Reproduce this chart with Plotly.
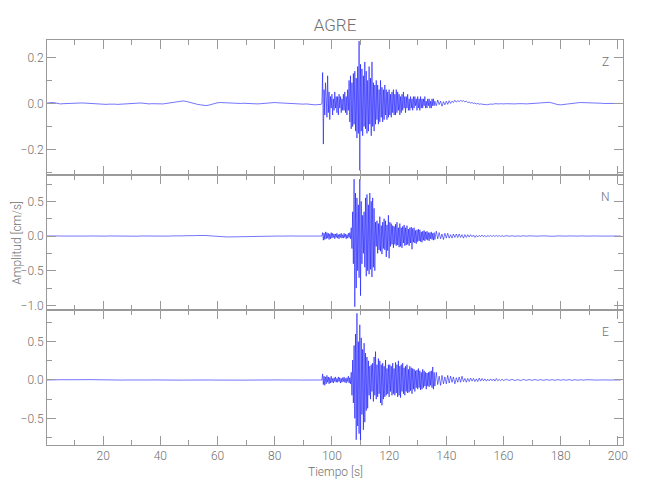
import numpy as np
import plotly.graph_objects as go
from plotly.subplots import make_subplots

title = "AGRE"
components = ["Z", "N", "E"]
x_label = "Tiempo [s]"
y_label = "Amplitud [cm/s]"

# Sampling grid segments (s): A 0-95 @1s, B 96-135.75 @0.25s, C 136-159.5 @0.5s, D 160-201 @1s
seg_start = [0.0, 96.0, 136.0, 160.0]
seg_step = [1.0, 0.25, 0.5, 1.0]

# ---------------- Z component ----------------
z_A = [0.001,0.003,0.004,0.003,0.0,-0.002,-0.001,0.0,0.001,0.001,
       0.001,0.002,0.002,0.002,0.001,0.001,0.0,-0.001,0.0,-0.001,
       -0.002,-0.004,-0.003,-0.002,-0.003,-0.004,-0.003,-0.001,0.0,0.001,
       0.001,0.002,0.003,0.002,0.001,-0.001,-0.002,-0.001,-0.002,-0.003,
       -0.003,-0.002,0.0,0.002,0.004,0.006,0.008,0.010,0.011,0.009,
       0.005,0.001,-0.002,-0.004,-0.006,-0.008,-0.009,-0.007,-0.003,0.001,
       0.003,0.004,0.003,0.002,0.001,0.0,0.0,-0.001,0.0,0.001,
       0.0,-0.001,-0.002,-0.003,-0.002,-0.001,0.0,0.002,0.004,0.005,
       0.004,0.003,0.002,0.002,0.001,0.0,-0.001,-0.002,-0.002,-0.003,
       -0.003,-0.002,-0.004,-0.005,-0.006,-0.005]
z_B = [-0.005,-0.004,0.002,0.134,-0.176,0.06,-0.05,0.09,
       0.03,-0.06,0.12,-0.04,0.05,-0.07,0.03,-0.02,
       0.04,-0.05,0.02,-0.03,0.05,-0.02,0.03,-0.04,
       0.03,-0.05,0.04,-0.02,0.03,-0.04,0.02,-0.03,
       0.04,-0.03,0.05,-0.04,0.03,-0.05,0.06,-0.03,
       0.10,-0.08,0.12,-0.11,0.09,-0.10,0.13,-0.09,
       0.14,-0.12,0.11,-0.15,0.16,-0.13,0.27,-0.29,
       0.17,-0.12,0.15,-0.14,0.12,-0.10,0.18,-0.11,
       0.14,-0.13,0.10,-0.12,0.16,-0.09,0.11,-0.14,
       0.18,-0.10,0.09,-0.12,0.08,-0.09,0.10,-0.07,
       0.08,-0.09,0.06,-0.08,0.10,-0.06,0.07,-0.08,
       0.06,-0.07,0.08,-0.05,0.06,-0.07,0.05,-0.06,
       0.06,-0.05,0.04,-0.06,0.05,-0.04,0.06,-0.05,
       0.04,-0.05,0.06,-0.04,0.05,-0.03,0.04,-0.05,
       0.03,-0.04,0.04,-0.03,0.05,-0.02,0.03,-0.04,
       0.03,-0.02,0.04,-0.03,0.02,-0.03,0.03,-0.02,
       0.02,-0.03,0.03,-0.02,0.03,-0.01,0.02,-0.03,
       0.03,-0.02,0.02,-0.03,0.03,-0.02,0.02,-0.02,
       0.02,-0.01,0.03,-0.02,0.01,-0.02,0.02,-0.01,
       0.02,-0.02,0.01,-0.02,0.02,-0.01,0.02,-0.01]
z_C = [0.01,-0.01,0.015,-0.005,0.01,-0.012,0.008,-0.006,
       0.01,-0.004,0.012,0.0,0.01,0.004,0.014,0.006,
       0.012,0.008,0.013,0.009,0.012,0.007,0.01,0.004,
       0.006,0.002,0.004,0.0,0.002,-0.002,0.0,-0.003,
       -0.002,-0.004,-0.003,-0.005,-0.004,-0.006,-0.003,-0.004,
       -0.002,-0.003,-0.001,-0.002,-0.003,-0.002,-0.001,-0.002]
z_D = [-0.002,-0.001,-0.002,-0.003,-0.002,-0.001,0.0,-0.001,-0.002,-0.001,
       0.0,0.001,0.002,0.004,0.005,0.006,0.005,0.002,-0.002,-0.005,
       -0.006,-0.004,-0.003,-0.001,0.001,0.002,0.003,0.004,0.004,0.003,
       0.004,0.003,0.002,0.002,0.001,0.0,0.0,-0.001,0.0,0.0,0.0,0.0]

# ---------------- N component ----------------
n_A = [0.0,0.002,-0.001,0.001,-0.002,0.001,0.0,-0.001,0.002,0.0,
       -0.001,0.001,0.0,-0.002,0.001,0.0,0.001,-0.001,0.0,0.001,
       0.0,-0.001,0.001,0.0,-0.001,0.002,0.0,-0.001,0.001,0.0,
       0.001,0.0,-0.002,0.001,0.0,-0.001,0.001,0.0,0.001,-0.001,
       0.0,0.001,0.0,-0.001,0.002,0.0,0.001,0.002,0.003,0.005,
       0.002,0.004,0.006,0.008,0.010,0.011,0.008,0.004,0.0,-0.003,
       -0.006,-0.009,-0.011,-0.012,-0.013,-0.012,-0.010,-0.008,-0.005,-0.003,
       -0.002,0.0,-0.001,0.001,0.0,-0.001,0.001,0.0,-0.001,0.0,
       0.001,0.0,-0.001,0.002,0.0,-0.001,0.001,0.0,0.001,-0.001,
       0.0,0.001,-0.001,0.0,0.002,-0.001]
n_B = [0.0,-0.002,0.003,0.05,-0.06,0.04,-0.05,0.06,
       -0.04,0.05,-0.03,0.04,-0.05,0.03,-0.04,0.05,
       -0.03,0.04,-0.02,0.03,-0.04,0.03,-0.02,0.04,
       -0.03,0.02,-0.04,0.03,-0.02,0.04,-0.03,0.02,
       -0.03,0.04,-0.02,0.03,-0.04,0.02,-0.03,0.04,
       -0.02,0.05,-0.04,0.12,-0.18,0.35,-0.4,0.82,
       -1.02,0.62,-0.75,0.55,-0.5,0.45,-0.6,0.82,
       -0.86,0.5,-0.4,0.3,-0.25,0.35,-0.45,0.55,
       -0.58,0.6,-0.5,0.45,-0.55,0.62,-0.48,0.5,
       -0.59,0.55,-0.45,0.4,-0.5,0.2,-0.15,0.22,
       -0.25,0.18,-0.2,0.28,-0.22,0.15,-0.26,0.2,
       -0.18,0.25,-0.2,0.22,-0.3,0.16,-0.21,0.3,
       -0.32,0.2,-0.15,0.18,-0.12,0.15,-0.17,0.14,
       -0.12,0.17,-0.14,0.2,-0.13,0.12,-0.16,0.18,
       -0.15,0.12,-0.17,0.14,-0.1,0.16,-0.14,0.12,
       -0.13,0.15,-0.12,0.1,-0.14,0.12,-0.1,0.13,
       -0.19,0.11,-0.09,0.12,-0.1,0.08,-0.11,0.09,
       -0.08,0.1,-0.07,0.09,-0.08,0.06,-0.09,0.07,
       -0.06,0.08,-0.07,0.06,-0.05,0.07,-0.06,0.05,
       -0.07,0.05,-0.04,0.06,-0.05,0.04,-0.06,0.05]
n_C = [-0.05,0.07,-0.04,0.05,-0.04,0.03,-0.05,0.04,
       -0.03,0.04,-0.03,0.02,-0.03,0.03,-0.02,0.03,
       -0.02,0.03,-0.02,0.02,-0.03,0.02,-0.02,0.02,
       -0.015,0.02,-0.01,0.015,-0.02,0.01,-0.015,0.01,
       -0.01,0.015,-0.01,0.01,-0.015,0.01,-0.008,0.012,
       -0.01,0.012,-0.008,0.01,-0.006,0.008,-0.006,0.005]
n_D = [-0.004,0.005,-0.003,0.004,-0.003,0.002,-0.003,0.004,-0.002,0.003,
       -0.002,0.003,-0.002,0.002,-0.003,0.002,-0.002,0.003,-0.002,0.002,
       -0.002,0.002,-0.001,0.002,-0.002,0.001,-0.001,0.002,-0.001,0.001,
       -0.001,0.001,-0.001,0.001,0.0,0.001,-0.001,0.0,0.0,0.0,0.0,0.0]

# ---------------- E component ----------------
e_A = [0.0,0.002,0.004,0.005,0.004,0.003,0.004,0.003,0.002,0.001,
       0.0,-0.001,0.0,0.002,0.004,0.005,0.004,0.002,0.0,-0.002,
       -0.003,-0.003,-0.002,-0.003,-0.002,-0.001,-0.002,-0.001,0.0,-0.001,
       0.0,0.001,0.002,0.001,0.0,-0.001,0.0,0.001,0.0,-0.001,
       -0.002,-0.001,-0.002,-0.003,-0.002,-0.001,0.0,-0.001,-0.002,-0.001,
       0.0,0.001,0.0,-0.001,0.0,0.001,0.002,0.001,0.0,-0.001,
       -0.002,-0.001,0.0,0.001,0.002,0.003,0.002,0.001,0.0,-0.001,
       -0.002,-0.001,0.0,0.001,0.0,0.001,0.002,0.003,0.004,0.005,
       0.004,0.003,0.001,0.0,-0.002,-0.003,-0.002,-0.001,0.0,-0.001,
       -0.002,-0.001,0.0,0.001,0.0,-0.001]
e_B = [0.0,0.003,-0.004,0.08,-0.06,0.05,-0.07,0.04,
       -0.05,0.06,-0.03,0.04,-0.05,0.03,-0.04,0.05,
       -0.03,0.02,-0.04,0.03,-0.02,0.04,-0.03,0.02,
       -0.03,0.04,-0.02,0.03,-0.04,0.02,-0.03,0.03,
       -0.02,0.04,-0.03,0.02,-0.04,0.03,-0.02,0.05,
       -0.04,0.03,-0.05,0.1,-0.2,0.26,-0.3,0.45,
       -0.5,0.6,-0.78,0.87,-0.6,0.5,-0.7,0.72,
       -0.84,0.55,-0.45,0.4,-0.65,0.48,-0.55,0.35,
       -0.4,0.3,-0.37,0.25,-0.2,0.18,-0.25,0.2,
       -0.15,0.22,-0.28,0.3,-0.2,0.37,-0.25,0.2,
       -0.22,0.28,-0.18,0.25,-0.3,0.2,-0.33,0.22,
       -0.25,0.18,-0.22,0.26,-0.2,0.15,-0.18,0.2,
       -0.22,0.2,-0.15,0.18,-0.2,0.22,-0.18,0.15,
       -0.2,0.23,-0.17,0.2,-0.22,0.25,-0.2,0.18,
       -0.23,0.2,-0.15,0.22,-0.18,0.16,-0.2,0.18,
       -0.15,0.2,-0.17,0.14,-0.16,0.18,-0.14,0.16,
       -0.18,0.15,-0.12,0.14,-0.15,0.12,-0.1,0.13,
       -0.12,0.15,-0.1,0.12,-0.13,0.1,-0.12,0.14,
       -0.1,0.12,-0.08,0.1,-0.12,0.09,-0.08,0.1,
       -0.09,0.11,-0.07,0.12,-0.1,0.17,-0.12,0.1]
e_C = [-0.08,0.1,-0.06,0.05,-0.07,0.06,-0.05,0.04,
       -0.05,0.06,-0.04,0.05,-0.03,0.04,-0.05,0.03,
       -0.03,0.04,-0.03,0.05,-0.02,0.02,-0.03,0.02,
       -0.02,0.025,-0.015,0.02,-0.02,0.015,-0.02,0.025,
       -0.015,0.02,-0.01,0.015,-0.015,0.01,-0.012,0.015,
       -0.01,0.012,-0.015,0.02,-0.01,0.008,-0.01,0.012]
e_D = [-0.008,0.01,-0.006,0.008,-0.007,0.006,-0.008,0.007,-0.005,0.006,
       -0.005,0.006,-0.004,0.005,-0.004,0.005,-0.003,0.004,-0.004,0.005,
       -0.003,0.004,-0.003,0.005,-0.004,0.004,-0.003,0.003,-0.002,0.003,
       -0.002,0.002,-0.001,0.002,-0.001,0.001,0.0,-0.001,0.0,0.0,0.0,0.0]

series = {
    "Z": [z_A, z_B, z_C, z_D],
    "N": [n_A, n_B, n_C, n_D],
    "E": [e_A, e_B, e_C, e_D],
}

def build(segs):
    t, v = [], []
    for s0, ds, vals in zip(seg_start, seg_step, segs):
        t.extend((s0 + ds * np.arange(len(vals))).tolist())
        v.extend(vals)
    return t, v

y_ranges = [[-0.31, 0.275], [-1.066, 0.88], [-0.848, 0.913]]
y_dticks = [0.2, 0.5, 0.5]
y_minor = [0.1, 0.25, 0.25]

FONT = "Roboto, Liberation Sans, sans-serif"
TXT = "#707070"
AX = "#9a9a9a"
TF = dict(family=FONT, size=12, color=TXT, weight=300)

fig = make_subplots(rows=3, cols=1, shared_xaxes=True, vertical_spacing=0)

for i, comp in enumerate(components):
    t, v = build(series[comp])
    fig.add_trace(go.Scatter(x=t, y=v, mode="lines",
                             line=dict(color="#0000ff", width=0.55),
                             showlegend=False, hoverinfo="skip"),
                  row=i + 1, col=1)
    fig.update_yaxes(range=y_ranges[i], dtick=y_dticks[i], tick0=0, tickformat=".1f",
                     ticks="inside", ticklen=9, tickcolor=AX, tickwidth=1,
                     minor=dict(dtick=y_minor[i], tick0=0, ticks="inside", ticklen=5, tickcolor=AX),
                     showline=True, linecolor=AX, linewidth=1, mirror="ticks",
                     showgrid=False, zeroline=False, tickfont=TF,
                     row=i + 1, col=1)
    fig.update_xaxes(range=[0.35, 201.8], dtick=20, tick0=0,
                     ticks="inside", ticklen=9, tickcolor=AX, tickwidth=1,
                     minor=dict(dtick=10, tick0=0, ticks="inside", ticklen=5, tickcolor=AX),
                     showline=True, linecolor=AX, linewidth=1, mirror="ticks",
                     showgrid=False, zeroline=False, tickfont=TF,
                     row=i + 1, col=1)
    yref = "y domain" if i == 0 else f"y{i+1} domain"
    xref = "x domain" if i == 0 else f"x{i+1} domain"
    fig.add_annotation(text=comp, x=0.970, y=0.837, xref=xref, yref=yref,
                       showarrow=False, xanchor="center", yanchor="middle", font=TF)

fig.add_annotation(text=y_label, x=-0.0535, y=0.5, xref="paper", yref="paper",
                   textangle=-90, showarrow=False, xanchor="center", yanchor="middle", font=TF)
fig.add_annotation(text=x_label, x=0.5, y=-0.067, xref="paper", yref="paper",
                   showarrow=False, xanchor="center", yanchor="middle", font=TF)

# page body has an 8px default margin, so the figure is 8px smaller on each axis
fig.update_layout(
    width=642, height=492,
    margin=dict(l=39, r=27, t=32, b=55),
    paper_bgcolor="white", plot_bgcolor="white",
    title=dict(text=title, x=0.5, xref="paper", y=1 - 17 / 492, yref="container",
               xanchor="center", yanchor="middle",
               font=dict(family=FONT, size=17, color=TXT, weight=300)),
)

fig.write_html("out.html")
